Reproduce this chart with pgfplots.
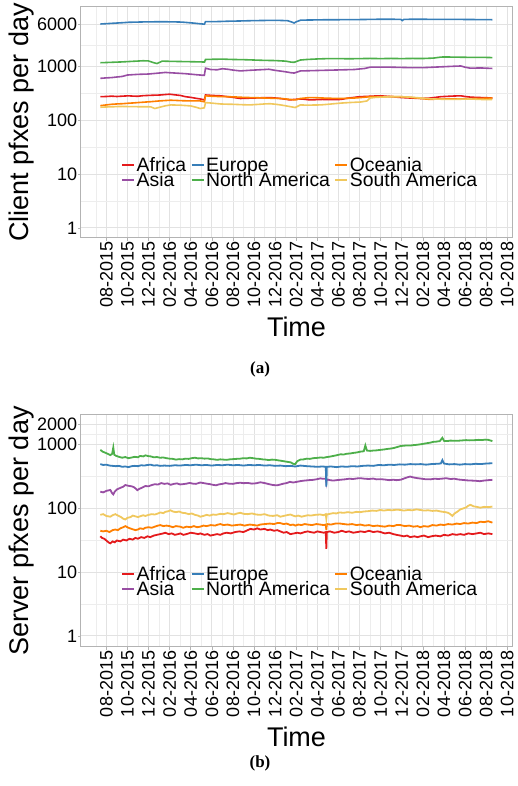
\documentclass[border=0pt]{standalone}
\usepackage{pgfplots}
\pgfplotsset{compat=1.18}
\usepackage{fontspec}
\setmainfont{Liberation Sans}
\newfontfamily\capfont{Liberation Serif}

\definecolor{cAfrica}{HTML}{E41A1C}
\definecolor{cAsia}{HTML}{984EA3}
\definecolor{cEurope}{HTML}{377EB8}
\definecolor{cNAm}{HTML}{4DAF4A}
\definecolor{cOceania}{HTML}{FF7F00}
\definecolor{cSAm}{HTML}{F0C85E}
\definecolor{gridmaj}{HTML}{E2E2E2}
\definecolor{gridmin}{HTML}{EDEDED}
\definecolor{border}{HTML}{B3B3B3}

\pgfplotsset{
  legend image code/.code={\draw[#1, line width=2pt] (0pt,0pt) -- (12pt,0pt);},
}
\pgfplotsset{
  pfx/.style={
    scale only axis, width=431pt,
    xmin=-2.4, xmax=38.45,
    xtick={0,2,...,38},
    xticklabels={08-2015,10-2015,12-2015,02-2016,04-2016,06-2016,08-2016,10-2016,12-2016,02-2017,04-2017,06-2017,08-2017,10-2017,12-2017,02-2018,04-2018,06-2018,08-2018,10-2018},
    minor xtick={-1,1,...,37},
    grid=both,
    major grid style={draw=gridmaj, line width=0.8pt},
    minor grid style={draw=gridmin, line width=0.5pt},
    axis line style={draw=border, line width=1pt},
    tick align=outside, major tick length=2.75pt, minor tick length=0pt,
    tick style={draw=border, line width=0.6pt},
    tick pos=left,
    ticklabel style={font=\fontsize{18}{18}\selectfont},
    xticklabel style={rotate=90, anchor=east, inner sep=1pt},
    yticklabel style={inner sep=1pt},
    label style={font=\fontsize{27}{27}\selectfont},
    xlabel={Time},
    legend cell align=left, legend columns=3,
    legend style={draw=none, fill=none, inner sep=0pt, row sep=1.3pt,
      font=\fontsize{19.4}{19.4}\selectfont,
      nodes={inner sep=0pt, text height=13.7pt, text depth=0pt},
      /tikz/every odd column/.append style={column sep=1.5pt},
      /tikz/every even column/.append style={column sep=4.3pt},
      at={(axis description cs:0.0928,0.284)}, anchor=west},
  }
}

\begin{document}
\begin{tikzpicture}
\useasboundingbox (0,0) rectangle (517pt,786pt);

% ---------------- (a) clients ----------------
\begin{axis}[pfx, ymode=log, at={(81pt,548pt)}, anchor=south west, height=231pt,
  ymin=0.65, ymax=12400,
  ytick={1,10,100,1000,6000}, yticklabels={1,10,100,1000,6000},
  minor ytick={3.162,31.62,316.2,2449},
  ylabel={Client pfxes per day},
  ylabel style={at={(axis description cs:-0.137,0.5)}, anchor=center},
  xlabel style={at={(axis description cs:0.5,-0.385)}, anchor=center}]

\addplot[cAfrica, line width=1.6pt, forget plot] table {
-0.57 270
0.0 272
0.5 276
1.0 272
1.5 276
2.1 280
2.6 276
3.0 275
3.5 282
4.0 285
4.6 288
5.1 290
5.6 296
6.0 300
6.5 292
7.0 285
7.5 270
8.0 262
8.5 252
8.9 245
9.3 235
9.4 290
10.0 285
10.8 280
11.5 270
12.0 262
12.7 250
13.3 252
14.0 255
14.8 258
15.5 260
16.0 255
16.5 250
17.0 242
17.4 235
17.8 240
18.5 245
19.3 235
20.0 238
20.5 240
21.3 238
22.2 240
23.0 255
23.5 262
24.0 270
24.5 272
25.0 275
25.5 278
26.0 280
26.5 275
27.0 270
27.5 265
28.0 260
28.8 255
29.8 250
30.7 255
31.2 262
31.7 270
32.5 275
33.0 278
33.6 280
34.0 272
34.5 265
35.0 262
35.5 260
36.0 258
36.59 255
};
\addplot[cAsia, line width=1.6pt, forget plot] table {
-0.57 590
-0.1 600
0.5 610
1.0 625
1.5 640
2.0 680
2.5 690
3.0 700
3.5 705
4.0 710
4.5 725
5.0 740
5.6 760
6.0 750
6.5 740
7.0 730
7.5 720
8.0 705
8.5 690
8.9 680
9.29 670
9.4 910
9.9 860
10.5 850
11.0 890
11.5 870
12.0 840
12.7 810
13.1 820
13.5 830
14.0 840
14.5 850
15.0 860
15.4 870
16.0 830
16.5 805
17.0 780
17.5 750
17.8 740
18.4 810
19.0 815
19.5 820
20.0 825
20.5 830
21.0 835
21.5 840
22.0 845
22.5 850
23.0 855
23.5 860
24.0 880
24.5 900
25.0 950
25.5 950
26.0 950
26.5 955
27.0 950
27.5 945
28.0 940
28.5 935
29.0 930
29.5 930
30.0 930
30.5 940
31.0 950
31.5 960
32.0 970
32.5 980
33.0 990
33.6 1000
34.0 950
34.5 910
35.0 915
35.5 920
36.0 910
36.59 900
};
\addplot[cEurope, line width=1.6pt, forget plot] table {
-0.57 6000
-0.2 6050
0.4 6150
1.0 6250
1.6 6350
2.1 6450
2.8 6500
3.5 6550
4.2 6580
5.0 6600
5.8 6590
6.5 6560
7.2 6500
7.8 6350
8.4 6200
8.9 6050
9.3 5950
9.4 6650
10.0 6620
10.8 6680
11.5 6750
12.3 6800
13.0 6850
13.6 6900
14.5 6950
15.5 7000
16.5 6980
17.2 6900
17.6 6500
17.8 6250
18.0 6600
18.4 7050
19.0 7100
20.0 7150
21.0 7200
22.0 7200
23.0 7250
24.0 7250
25.0 7300
26.0 7350
27.0 7350
27.9 7300
28.05 6950
28.2 7300
29.0 7350
30.0 7350
31.0 7300
32.0 7300
33.0 7300
34.0 7280
35.0 7250
36.0 7250
36.59 7200
};
\addplot[cNAm, line width=1.6pt, forget plot] table {
-0.57 1150
0.0 1160
0.5 1170
1.0 1180
1.5 1190
2.0 1205
2.5 1220
3.0 1235
3.5 1250
4.0 1240
4.5 1150
4.8 1110
5.3 1230
6.0 1220
7.0 1210
8.0 1200
9.0 1190
9.3 1180
9.4 1320
10.0 1330
11.0 1340
12.0 1320
13.0 1310
14.0 1290
15.0 1270
16.0 1260
17.0 1230
17.5 1180
17.8 1170
18.4 1290
19.0 1320
20.0 1350
21.0 1370
22.0 1370
23.0 1360
24.0 1370
25.0 1380
26.0 1370
27.0 1380
28.0 1370
29.0 1380
30.0 1375
31.0 1400
31.7 1460
32.0 1470
33.0 1460
34.0 1450
35.0 1440
36.0 1440
36.59 1430
};
\addplot[cOceania, line width=1.6pt, forget plot] table {
-0.57 184
0.0 190
0.5 195
1.0 198
1.5 200
2.1 204
2.6 207
3.0 210
3.6 214
4.2 218
5.0 225
5.6 229
6.1 232
6.6 230
7.0 228
8.0 225
8.9 225
9.29 217
9.4 280
10.0 275
10.6 272
11.3 270
12.0 268
12.5 265
13.0 262
13.6 260
14.3 258
15.0 255
15.8 252
16.5 250
17.0 245
17.4 240
17.9 235
18.4 250
19.3 260
20.0 258
20.5 255
21.3 252
22.2 250
23.5 255
24.3 262
25.0 270
26.0 270
27.0 272
27.9 270
28.5 265
29.0 260
29.8 250
30.7 240
31.5 245
32.5 246
33.5 245
34.3 248
35.0 250
35.8 252
36.59 255
};
\addplot[cSAm, line width=1.6pt, forget plot] table {
-0.57 172
0.0 174
0.5 175
1.0 177
1.5 178
2.1 177
3.0 176
3.8 176
4.2 175
4.6 163
5.2 175
5.6 183
6.1 190
6.5 189
7.0 188
7.5 185
8.0 182
8.5 172
8.9 163
9.29 168
9.4 210
10.0 205
10.8 198
11.4 196
12.0 195
12.8 192
13.6 190
14.5 195
15.0 198
15.5 200
16.0 196
16.5 190
17.0 183
17.4 177
17.9 170
18.4 190
19.0 188
19.6 189
20.3 190
21.0 195
21.6 200
22.2 205
23.0 210
24.1 215
24.7 225
25.0 255
25.5 262
26.0 265
27.0 268
27.9 270
28.8 265
29.8 255
30.4 250
31.0 245
31.8 242
32.6 240
33.5 242
34.5 245
35.0 242
35.5 240
36.0 238
36.59 240
};

\addlegendimage{cAfrica}\addlegendentry{Africa}
\addlegendimage{cEurope}\addlegendentry{Europe}
\addlegendimage{cOceania}\addlegendentry{Oceania}
\addlegendimage{cAsia}\addlegendentry{Asia}
\addlegendimage{cNAm}\addlegendentry{North America}
\addlegendimage{cSAm}\addlegendentry{South America}
\end{axis}

% ---------------- (b) servers ----------------
\begin{axis}[pfx, ymode=log, at={(81pt,139pt)}, anchor=south west, height=232pt,
  ymin=0.67, ymax=2840,
  ytick={1,10,100,1000,2000}, yticklabels={1,10,100,1000,2000},
  minor ytick={3.162,31.62,316.2,1414},
  ylabel={Server pfxes per day},
  ylabel style={at={(axis description cs:-0.137,0.5)}, anchor=center},
  xlabel style={at={(axis description cs:0.5,-0.388)}, anchor=center}]

\addplot[cAfrica, line width=1.8pt, forget plot] table {
-0.57 36
-0.4 34
-0.2 33
0.0 31
0.2 29
0.38 28
0.6 30
0.8 29
1.0 31
1.33 30
1.6 32
1.9 31
2.2 33
2.5 32
2.75 34
3.0 33
3.3 35
3.6 34
3.9 36
4.17 35
4.5 37
4.8 38
5.1 39
5.4 40
5.59 41
5.9 39
6.2 40
6.5 38
6.8 39
7.01 40
7.3 38
7.6 39
8.0 41
8.4 40
8.7 39
8.91 40
9.3 38
9.6 39
9.86 37
10.2 38
10.5 39
10.8 38
11.1 40
11.4 41
11.8 40
12.2 42
12.6 43
13.0 42
13.4 45
13.65 47
14.0 46
14.3 48
14.6 46
15.0 47
15.3 45
15.55 46
15.9 44
16.2 45
16.5 43
16.8 41
17.1 42
17.44 39
17.8 40
18.1 41
18.4 40
18.8 42
19.1 43
19.34 42
19.7 41
20.0 43
20.3 42
20.6 41
20.8 42
20.85 23
20.9 42
21.2 43
21.6 41
22.0 42
22.3 44
22.7 42
23.0 43
23.4 41
23.8 42
24.1 43
24.5 42
24.9 44
25.3 42
25.7 43
26.0 42
26.4 40
26.8 41
27.2 39
27.5 38
27.87 37
28.2 36
28.5 37
28.8 35
29.2 36
29.5 35
29.76 36
30.1 37
30.5 35
30.8 36
31.2 37
31.66 36
32.0 38
32.4 37
32.8 39
33.2 38
33.55 39
33.9 38
34.3 40
34.7 39
35.1 40
35.45 41
35.8 39
36.2 40
36.59 39
};
\addplot[cAsia, line width=1.8pt, forget plot] table {
-0.57 180
-0.3 175
0.0 185
0.38 191
0.55 170
0.66 163
0.8 180
1.0 195
1.3 205
1.6 215
1.8 228
2.1 222
2.4 218
2.6 212
2.8 200
2.94 190
3.1 198
3.4 208
3.7 220
4.0 218
4.3 228
4.6 235
4.9 232
5.2 245
5.5 238
5.8 242
6.1 230
6.4 238
6.7 242
7.0 233
7.3 236
7.6 240
7.9 246
8.2 240
8.5 238
8.9 250
9.2 245
9.5 240
9.8 236
10.1 230
10.4 226
10.7 234
11.0 238
11.3 245
11.6 240
12.0 238
12.3 244
12.7 248
13.0 244
13.4 246
13.8 240
14.2 243
14.6 252
15.0 245
15.4 236
15.8 228
16.2 226
16.5 233
16.8 240
17.1 245
17.4 256
17.7 250
18.0 255
18.4 263
18.8 268
19.2 272
19.6 275
20.0 282
20.28 290
20.5 286
20.8 285
20.85 250
20.9 280
21.2 272
21.5 268
21.9 273
22.2 276
22.6 280
23.0 286
23.4 284
23.8 290
24.1 292
24.5 286
24.9 284
25.3 288
25.6 280
26.0 282
26.4 278
26.8 272
27.2 276
27.5 272
27.9 276
28.2 288
28.5 300
28.8 310
29.1 300
29.5 292
29.8 288
30.2 282
30.7 280
31.1 286
31.5 284
31.9 288
32.2 292
32.6 284
33.0 286
33.4 278
33.8 274
34.2 270
34.6 268
35.0 266
35.4 262
35.8 268
36.2 272
36.59 275
};
\addplot[cEurope, line width=1.8pt, forget plot] table {
-0.57 485
-0.3 470
0.0 475
0.3 460
0.6 455
0.9 450
1.2 455
1.5 440
1.8 445
2.1 435
2.4 450
2.7 455
3.0 450
3.3 465
3.6 460
3.9 470
4.2 475
4.5 460
4.8 465
5.1 455
5.5 460
6.0 455
6.5 465
7.0 460
7.5 470
8.0 465
8.5 475
9.0 465
9.5 470
10.0 460
10.5 470
11.0 465
11.5 475
12.0 465
12.5 470
13.0 460
13.5 470
14.0 465
14.5 470
15.0 460
15.5 465
16.0 455
16.5 460
17.0 450
17.5 455
17.9 445
18.4 460
19.0 450
19.5 445
20.0 440
20.5 445
20.8 440
20.85 215
20.9 440
21.3 445
21.8 435
22.3 445
22.8 440
23.3 450
23.8 445
24.3 455
24.8 460
25.3 455
25.8 470
26.3 465
26.8 475
27.3 470
27.8 480
28.3 475
28.8 485
29.3 480
29.8 485
30.3 475
30.8 485
31.3 490
31.7 495
31.85 560
32.0 495
32.5 480
33.0 485
33.5 475
34.0 485
34.5 480
35.0 490
35.5 485
36.0 495
36.59 500
};
\addplot[cNAm, line width=1.8pt, forget plot] table {
-0.57 810
-0.35 760
-0.1 730
0.15 700
0.38 670
0.55 700
0.66 880
0.75 680
0.95 650
1.2 630
1.5 610
1.8 625
2.1 600
2.4 615
2.7 630
3.0 620
3.2 650
3.5 640
3.7 665
4.0 645
4.2 640
4.5 620
4.8 625
5.1 610
5.4 615
5.7 600
6.0 590
6.3 585
6.6 570
6.9 580
7.2 575
7.5 590
7.8 585
8.1 600
8.4 610
8.7 595
9.0 600
9.3 590
9.6 595
9.9 580
10.2 575
10.5 565
10.8 575
11.1 570
11.4 565
11.7 575
12.0 580
12.3 585
12.7 590
13.0 600
13.3 595
13.6 610
13.9 600
14.2 590
14.5 585
14.8 575
15.1 570
15.4 560
15.7 570
16.0 565
16.3 555
16.6 545
16.9 535
17.2 525
17.5 515
17.7 490
17.9 485
18.1 540
18.4 570
18.7 575
19.0 590
19.3 585
19.6 600
19.9 605
20.3 615
20.6 610
20.9 625
21.2 635
21.5 650
21.8 665
22.2 690
22.5 685
22.8 705
23.1 710
23.4 725
23.7 735
24.1 760
24.4 770
24.55 950
24.7 790
25.0 780
25.3 790
25.6 795
26.0 810
26.3 820
26.7 840
27.0 850
27.3 870
27.6 900
27.9 930
28.2 940
28.5 950
28.8 945
29.1 960
29.4 970
29.8 990
30.1 1010
30.4 1030
30.7 1050
31.0 1080
31.3 1090
31.6 1110
31.85 1250
32.0 1120
32.3 1110
32.6 1130
32.9 1125
33.2 1120
33.5 1130
33.8 1140
34.1 1150
34.4 1140
34.7 1145
35.0 1150
35.3 1160
35.6 1150
35.9 1170
36.2 1160
36.59 1110
};
\addplot[cOceania, line width=1.8pt, forget plot] table {
-0.57 44
-0.3 43
0.0 44
0.3 42
0.6 45
0.85 46
1.1 45
1.33 48
1.6 50
1.8 52
2.1 49
2.4 47
2.75 45
3.0 46
3.2 48
3.5 47
3.7 49
4.0 50
4.3 49
4.6 51
4.9 53
5.12 54
5.4 52
5.7 53
6.0 52
6.3 50
6.6 52
7.0 51
7.3 49
7.6 51
8.0 50
8.3 52
8.6 50
8.91 51
9.2 53
9.5 52
9.9 54
10.3 53
10.6 55
10.81 56
11.1 54
11.5 55
11.9 53
12.3 54
12.7 55
13.1 53
13.6 55
14.0 54
14.3 53
14.6 55
15.0 56
15.5 57
15.9 56
16.2 58
16.49 58
16.8 56
17.1 57
17.44 54
17.7 55
17.91 53
18.2 55
18.5 54
18.8 56
19.1 55
19.5 54
19.9 56
20.28 55
20.6 54
20.8 55
20.85 45
20.9 56
21.3 55
21.7 57
22.18 57
22.5 56
22.9 55
23.3 56
23.7 54
24.08 55
24.5 53
24.9 54
25.3 52
25.7 53
25.97 52
26.4 51
26.8 53
27.2 52
27.5 54
27.87 54
28.3 52
28.7 53
29.1 51
29.5 52
29.76 50
30.1 52
30.5 51
30.9 54
31.3 53
31.66 55
32.0 54
32.4 56
32.8 55
33.2 57
33.55 56
33.9 58
34.3 57
34.7 59
35.1 58
35.45 61
35.8 60
36.2 62
36.59 59
};
\addplot[cSAm, line width=1.8pt, forget plot] table {
-0.57 78
-0.3 80
0.0 75
0.38 73
0.6 77
0.85 80
1.1 76
1.4 72
1.6 68
1.8 66
2.0 70
2.3 72
2.5 76
2.75 74
3.0 72
3.2 74
3.5 77
3.7 75
4.0 78
4.3 80
4.6 79
4.9 82
5.12 85
5.4 83
5.6 87
5.9 89
6.07 92
6.3 88
6.6 86
6.9 88
7.2 84
7.5 83
7.8 80
8.1 82
8.4 78
8.7 76
8.91 73
9.2 75
9.5 78
9.8 76
10.1 79
10.4 78
10.81 81
11.1 80
11.5 83
11.8 81
12.1 79
12.4 82
12.7 84
13.0 81
13.4 80
13.8 82
14.2 79
14.6 78
15.0 80
15.4 76
15.8 75
16.2 77
16.49 73
16.8 75
17.1 77
17.44 79
17.7 76
17.91 74
18.2 76
18.5 73
18.8 75
19.1 77
19.4 76
19.8 78
20.28 79
20.6 77
20.8 80
20.85 68
20.9 79
21.2 81
21.5 83
21.8 82
22.1 85
22.5 84
22.9 86
23.3 84
23.7 87
24.08 86
24.4 88
24.8 89
25.2 91
25.6 90
25.97 93
26.3 91
26.7 93
27.1 92
27.5 94
27.87 93
28.2 91
28.6 93
29.0 92
29.4 95
29.76 93
30.1 91
30.5 92
30.9 90
31.3 91
31.7 88
32.13 86
32.4 84
32.6 80
32.8 75
33.0 82
33.3 88
33.55 95
33.8 98
34.1 102
34.3 108
34.5 112
34.8 106
35.1 104
35.45 101
35.8 104
36.2 103
36.59 105
};

\addlegendimage{cAfrica}\addlegendentry{Africa}
\addlegendimage{cEurope}\addlegendentry{Europe}
\addlegendimage{cOceania}\addlegendentry{Oceania}
\addlegendimage{cAsia}\addlegendentry{Asia}
\addlegendimage{cNAm}\addlegendentry{North America}
\addlegendimage{cSAm}\addlegendentry{South America}
\end{axis}

\node[font=\capfont\bfseries\fontsize{17}{17}\selectfont] at (260pt,417pt) {(a)};
\node[font=\capfont\bfseries\fontsize{17}{17}\selectfont] at (260pt,22.5pt) {(b)};
\end{tikzpicture}
\end{document}
